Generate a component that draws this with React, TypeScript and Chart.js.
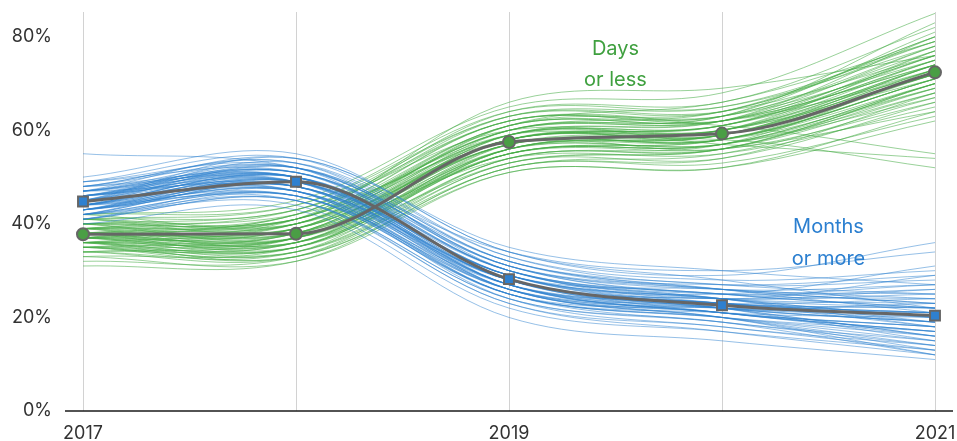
import React, { useEffect, useRef } from "react";
import { Chart, registerables } from "chart.js";

Chart.register(...registerables);

const years = ["2017", "2018", "2019", "2020", "2021"];
const yTicks = [0, 20, 40, 60, 80];

const daysMean = [37.8, 37.9, 57.5, 59.3, 72.4];
const monthsMean = [44.8, 49.0, 28.2, 22.6, 20.4];

const daysSamples: number[][] = [
  [38, 39, 58, 60, 73], [36, 35, 55, 57, 70], [40, 41, 60, 62, 76], [35, 34, 54, 56, 68],
  [39, 40, 59, 61, 75], [37, 38, 57, 58, 71], [41, 43, 62, 63, 78], [34, 33, 53, 54, 66],
  [38, 37, 56, 59, 74], [36, 38, 59, 60, 72], [42, 44, 63, 64, 80], [33, 32, 51, 52, 64],
  [39, 41, 61, 63, 77], [37, 36, 55, 57, 69], [40, 42, 58, 61, 73], [35, 37, 57, 58, 71],
  [38, 40, 60, 62, 76], [36, 34, 52, 55, 67], [41, 40, 59, 60, 74], [32, 33, 54, 56, 70],
  [39, 38, 58, 59, 72], [37, 39, 61, 64, 79], [40, 37, 55, 58, 71], [34, 36, 56, 57, 68],
  [38, 42, 64, 66, 82], [36, 35, 57, 60, 75], [42, 45, 65, 68, 85], [35, 33, 51, 52, 62],
  [39, 39, 57, 59, 73], [37, 37, 59, 62, 78], [38, 41, 62, 61, 55], [36, 36, 56, 58, 52],
  [40, 43, 60, 57, 54], [31, 32, 52, 53, 63], [38, 38, 54, 55, 65], [41, 39, 58, 60, 77],
  [37, 40, 60, 63, 81], [35, 35, 55, 57, 70], [39, 42, 63, 65, 79], [36, 37, 58, 59, 72],
  [38, 36, 53, 56, 69], [40, 40, 61, 62, 74], [34, 34, 56, 58, 71], [37, 41, 66, 69, 76],
  [39, 37, 57, 56, 66], [36, 39, 59, 61, 76], [38, 35, 54, 57, 73], [41, 41, 60, 64, 80],
  [35, 38, 58, 60, 74], [37, 36, 57, 59, 72], [36, 40, 61, 62, 74], [38, 39, 57, 58, 70],
  [35, 36, 58, 61, 77], [40, 38, 56, 57, 67], [37, 42, 62, 63, 75], [39, 36, 55, 58, 72],
  [34, 37, 59, 62, 80], [41, 44, 64, 65, 78], [36, 33, 52, 54, 68], [38, 37, 58, 60, 71],
  [33, 35, 56, 59, 73], [40, 41, 59, 58, 69], [37, 38, 60, 63, 83], [39, 43, 63, 64, 76],
  [35, 34, 53, 56, 70], [38, 39, 61, 66, 79], [36, 37, 55, 56, 64], [42, 40, 58, 61, 75],
  [37, 35, 56, 59, 74], [39, 41, 62, 62, 72],
];

const monthsSamples: number[][] = [
  [45, 49, 28, 23, 20], [43, 47, 26, 21, 18], [47, 51, 30, 24, 22], [42, 46, 25, 20, 16],
  [46, 50, 29, 23, 21], [44, 48, 27, 22, 19], [48, 53, 32, 26, 25], [41, 45, 24, 19, 14],
  [45, 50, 29, 24, 23], [43, 48, 28, 21, 17], [49, 54, 33, 27, 28], [42, 44, 22, 17, 13],
  [46, 52, 31, 25, 24], [44, 47, 26, 22, 20], [47, 49, 27, 21, 18], [43, 46, 27, 23, 22],
  [45, 51, 31, 26, 27], [41, 47, 25, 20, 15], [48, 50, 28, 22, 19], [55, 52, 34, 30, 34],
  [44, 49, 29, 25, 31], [46, 48, 27, 22, 21], [43, 50, 30, 24, 29], [42, 45, 24, 19, 12],
  [47, 52, 31, 25, 26], [44, 46, 25, 20, 17], [50, 55, 34, 29, 36], [40, 43, 20, 15, 11],
  [45, 48, 28, 23, 21], [46, 51, 30, 24, 19], [43, 47, 27, 22, 16], [44, 50, 29, 26, 24],
  [48, 49, 26, 20, 13], [42, 48, 28, 23, 22], [45, 53, 33, 28, 30], [47, 47, 25, 19, 15],
  [43, 49, 29, 24, 20], [46, 50, 27, 21, 18], [41, 46, 26, 22, 23], [44, 52, 32, 27, 25],
  [45, 47, 24, 18, 14], [49, 51, 30, 25, 22], [42, 48, 27, 21, 17], [46, 49, 29, 24, 20],
  [44, 45, 23, 17, 12], [47, 54, 35, 30, 27], [43, 48, 28, 22, 19], [45, 50, 26, 21, 16],
  [48, 52, 31, 26, 23], [44, 49, 28, 23, 21], [44, 50, 30, 25, 22], [46, 49, 27, 21, 17],
  [43, 47, 28, 24, 26], [45, 52, 32, 26, 21], [47, 50, 29, 22, 15], [42, 46, 26, 23, 24],
  [48, 53, 30, 24, 18], [44, 48, 26, 20, 14], [46, 51, 31, 27, 29], [43, 49, 29, 23, 19],
  [45, 47, 25, 21, 20], [49, 52, 28, 22, 16], [41, 45, 23, 18, 13], [47, 51, 32, 26, 23],
  [44, 50, 28, 24, 25], [46, 48, 26, 20, 12], [43, 46, 25, 22, 21], [45, 54, 34, 28, 22],
  [42, 49, 30, 25, 27], [47, 50, 27, 23, 18],
];

const GREEN_LINE = "rgba(70,172,70,0.55)";
const BLUE_LINE = "rgba(45,130,208,0.5)";
const GREEN = "#4a9e45";
const BLUE = "#2f80cf";
const GRAY = "#666666";
const FONT = "Inter, 'Noto Sans', sans-serif";

const annotations = [
  { text: "Days", x: 2.5, y: 77.4, color: "#3fa03f" },
  { text: "or less", x: 2.5, y: 70.8, color: "#3fa03f" },
  { text: "Months", x: 3.5, y: 39.4, color: "#2b7fd0" },
  { text: "or more", x: 3.5, y: 32.5, color: "#2b7fd0" },
];

const extrasPlugin = {
  id: "extras",
  afterDatasetsDraw(chart: any) {
    const { ctx, scales } = chart;
    const xs = scales.x;
    const ys = scales.y;
    ctx.save();
    ctx.font = `400 20px ${FONT}`;
    ctx.textAlign = "center";
    ctx.textBaseline = "middle";
    for (const a of annotations) {
      ctx.fillStyle = a.color;
      ctx.fillText(a.text, xs.getPixelForValue(a.x), ys.getPixelForValue(a.y));
    }
    const y0 = ys.getPixelForValue(0);
    ctx.strokeStyle = "#1a1a1a";
    ctx.lineWidth = 1.5;
    ctx.beginPath();
    ctx.moveTo(xs.left - 18, y0);
    ctx.lineTo(xs.right + 18, y0);
    ctx.stroke();
    ctx.restore();
  },
};

export default function App() {
  const ref = useRef<HTMLCanvasElement | null>(null);
  useEffect(() => {
    if (!ref.current) return;
    const datasets: any[] = [];
    datasets.push({
      data: daysMean,
      borderColor: GRAY,
      borderWidth: 3,
      cubicInterpolationMode: "monotone",
      pointStyle: "circle",
      pointRadius: 6,
      pointBackgroundColor: GREEN,
      pointBorderColor: GRAY,
      pointBorderWidth: 2,
      order: 0,
    });
    datasets.push({
      data: monthsMean,
      borderColor: GRAY,
      borderWidth: 3,
      cubicInterpolationMode: "monotone",
      pointStyle: "rect",
      pointRadius: 7,
      pointBackgroundColor: BLUE,
      pointBorderColor: GRAY,
      pointBorderWidth: 2,
      order: 0,
    });
    monthsSamples.forEach((s) =>
      datasets.push({
        data: s,
        borderColor: BLUE_LINE,
        borderWidth: 1,
        tension: 0.35,
        pointRadius: 0,
        order: 1,
      })
    );
    daysSamples.forEach((s) =>
      datasets.push({
        data: s,
        borderColor: GREEN_LINE,
        borderWidth: 1,
        tension: 0.35,
        pointRadius: 0,
        order: 2,
      })
    );
    const chart = new Chart(ref.current, {
      type: "line",
      data: { labels: years, datasets },
      options: {
        responsive: false,
        animation: false,
        layout: { padding: { left: 0, right: 22, top: 12, bottom: 0 } },
        plugins: { legend: { display: false }, tooltip: { enabled: false } },
        scales: {
          x: {
            type: "category",
            offset: false,
            grid: { color: "#d2d2d2", lineWidth: 1, drawTicks: false },
            border: { display: false },
            ticks: {
              autoSkip: false,
              maxRotation: 0,
              padding: 12,
              color: "#333333",
              font: { family: FONT, size: 18 },
              callback: (_v: any, i: number) => (i % 2 === 0 ? years[i] : ""),
            },
            afterFit: (s: any) => {
              s.height = 30;
              s.paddingLeft = 0;
              s.paddingRight = 0;
              s.paddingTop = 0;
              s.paddingBottom = 0;
            },
          },
          y: {
            min: 0,
            max: 85.3,
            grid: { display: false, drawTicks: false },
            border: { display: false },
            afterBuildTicks: (s: any) => {
              s.ticks = yTicks.map((v) => ({ value: v }));
            },
            ticks: {
              padding: 31,
              color: "#333333",
              font: { family: FONT, size: 18 },
              callback: (v: any) => `${v}%`,
            },
            afterFit: (s: any) => {
              s.width = 83;
              s.paddingLeft = 0;
              s.paddingRight = 0;
              s.paddingTop = 0;
              s.paddingBottom = 0;
            },
          },
        },
      } as any,
      plugins: [extrasPlugin],
    });
    return () => chart.destroy();
  }, []);
  return (
    <div style={{ position: "absolute", left: 0, top: 0, width: 957, height: 441, background: "#fff" }}>
      <canvas ref={ref} width={957} height={441} />
    </div>
  );
}
